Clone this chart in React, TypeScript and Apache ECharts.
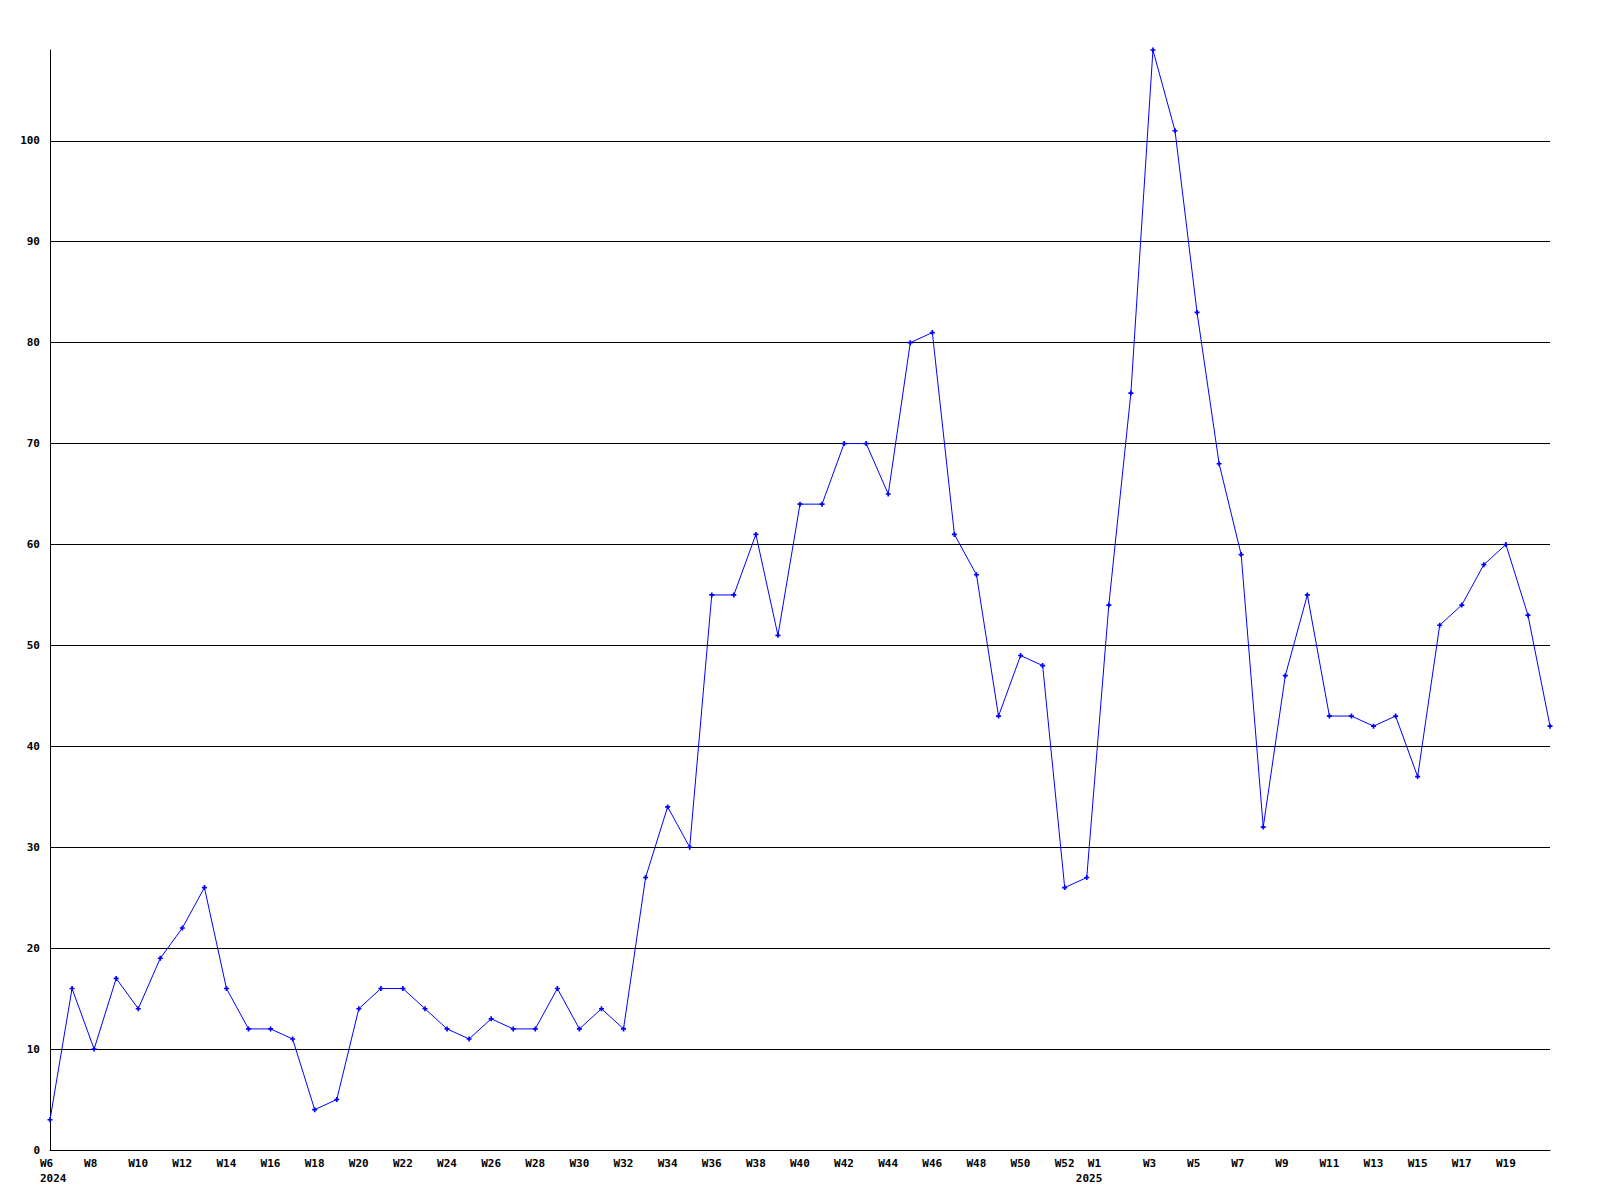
import React, { useEffect, useRef } from "react";
import * as echarts from "echarts";

const weeks2024: string[] = [];
for (let w = 6; w <= 53; w++) weeks2024.push("W" + w);
const weeks2025: string[] = [];
for (let w = 1; w <= 21; w++) weeks2025.push("W" + w);
const categories: string[] = [...weeks2024, ...weeks2025];

const yearLabels: { index: number; year: string }[] = [
  { index: 0, year: "2024" },
  { index: 47, year: "2025" },
];

const values: number[] = [
  3, 16, 10, 17, 14, 19, 22, 26, 16, 12, 12, 11, 4, 5, 14, 16, 16, 14, 12, 11,
  13, 12, 12, 16, 12, 14, 12, 27, 34, 30, 55, 55, 61, 51, 64, 64, 70, 70, 65, 80,
  81, 61, 57, 43, 49, 48, 26, 27, 54, 75, 109, 101, 83, 68, 59, 32, 47, 55, 43, 43,
  42, 43, 37, 52, 54, 58, 60, 53, 42,
];

const FONT = "'DejaVu Sans Mono', 'Liberation Mono', monospace";

export default function App() {
  const ref = useRef<HTMLDivElement>(null);
  useEffect(() => {
    document.body.style.margin = "0";
    const chart = echarts.init(ref.current!, null, { renderer: "svg" });
    const yearAt: Record<number, string> = {};
    yearLabels.forEach((y) => (yearAt[y.index] = y.year));
    const base = { fontFamily: FONT, fontWeight: "bold", fontSize: 11, color: "#000", lineHeight: 15, align: "left" };
    chart.setOption({
      animation: false,
      backgroundColor: "#ffffff",
      grid: { left: 50, right: 50, top: 50, bottom: 50, containLabel: false },
      xAxis: {
        type: "category",
        data: categories,
        boundaryGap: false,
        axisLine: { show: true, lineStyle: { color: "#000", width: 1 } },
        axisTick: { show: false },
        splitLine: { show: false },
        axisLabel: {
          interval: (idx: number) => (idx % 2 === 0 && idx < categories.length - 1) || yearAt[idx] !== undefined,
          formatter: (val: string, idx: number) => {
            if (idx === 0) return "{a|" + val + "}\n{a|" + yearAt[idx] + "}";
            if (yearAt[idx] !== undefined) return "{a| }\n{y|" + yearAt[idx] + "}";
            if (val === "W1") return "{w|" + val + "}";
            return "{a|" + val + "}";
          },
          rich: {
            a: { ...base, width: 20 },
            y: { ...base, width: 22 },
            w: { ...base, width: 42 },
          },
          color: "#000",
          fontFamily: FONT,
          fontWeight: "bold",
          fontSize: 11,
          lineHeight: 15,
          margin: 6,
          hideOverlap: false,
        },
      },
      yAxis: {
        type: "value",
        min: 0,
        max: 109,
        interval: 10,
        axisLine: { show: true, lineStyle: { color: "#000", width: 1 } },
        axisTick: { show: false },
        splitLine: { show: true, showMinLine: false, showMaxLine: false, lineStyle: { color: "#000", width: 1 } },
        axisLabel: {
          showMaxLabel: false,
          color: "#000",
          fontFamily: FONT,
          fontWeight: "bold",
          fontSize: 11,
          margin: 10,
        },
      },
      series: [
        {
          type: "line",
          data: values,
          lineStyle: { color: "#0000ff", width: 1 },
          itemStyle: { color: "#0000ff" },
          symbol: "path://M2,0H4V2H6V4H4V6H2V4H0V2H2Z",
          symbolSize: 5,
          showAllSymbol: true,
          clip: false,
        },
      ],
    });
    return () => chart.dispose();
  }, []);
  return <div ref={ref} style={{ width: 1600, height: 1200 }} />;
}
